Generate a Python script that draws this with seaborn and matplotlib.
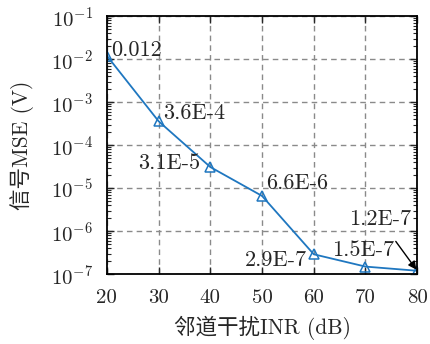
import matplotlib
matplotlib.use("Agg")
import matplotlib.pyplot as plt
import seaborn as sns
import pandas as pd
from matplotlib.ticker import LogLocator, NullFormatter

inr_db = [20, 30, 40, 50, 60, 70, 80]
mse = [0.012, 3.6e-4, 3.1e-5, 6.6e-6, 2.9e-7, 1.5e-7, 1.2e-7]
point_labels = ["0.012", "3.6E-4", "3.1E-5", "6.6E-6", "2.9E-7", "1.5E-7", "1.2E-7"]
xticks = [20, 30, 40, 50, 60, 70, 80]

sns.set_theme(style="ticks")
plt.rcParams['font.family'] = ['cmr10', 'Noto Sans CJK SC', 'DejaVu Sans']
plt.rcParams['mathtext.fontset'] = 'cm'
plt.rcParams['axes.formatter.use_mathtext'] = True
plt.rcParams['axes.unicode_minus'] = True

df = pd.DataFrame({"INR": inr_db, "MSE": mse})

fig = plt.figure(figsize=(4.31, 3.44), dpi=100)
ax = fig.add_axes([0.248, 0.203, 0.72, 0.75])

color = '#1f77c0'
sns.lineplot(data=df, x="INR", y="MSE", ax=ax, color=color, lw=1.3,
             marker='^', markersize=6.5, markerfacecolor='none',
             markeredgecolor=color, markeredgewidth=1.1)

ax.set_yscale('log')
ax.set_xlim(20, 80)
ax.set_ylim(1e-7, 1e-1)
ax.set_xticks(xticks)
ax.set_xticklabels([str(v) for v in xticks])
ax.yaxis.set_major_locator(LogLocator(base=10, numticks=10))
ax.yaxis.set_minor_locator(LogLocator(base=10, subs=range(2, 10), numticks=20))
ax.yaxis.set_minor_formatter(NullFormatter())

ax.grid(True, which='major', linestyle=(0, (4, 3)), color='#8a8a8a', lw=1.0)
ax.tick_params(which='both', direction='in', top=True, right=True, labelsize=15)
ax.tick_params(axis='x', pad=11)
ax.tick_params(axis='y', pad=10)
ax.tick_params(which='major', length=5, width=1)
ax.tick_params(which='minor', length=3, width=0.8)
ax.tick_params(axis='x', which='minor', bottom=False, top=False)
for s in ax.spines.values():
    s.set_linewidth(1.3)
    s.set_color('black')

ax.set_xlabel("邻道干扰INR (dB)", fontsize=15.5, labelpad=6)
ax.set_ylabel("信号MSE (V)", fontsize=15.5, labelpad=12)

fs = 16
offsets = [(3, 4, 'left', 'center'),
           (3, 6, 'left', 'center'),
           (-7, 3, 'right', 'center'),
           (3, 9, 'left', 'center'),
           (-5, -4, 'right', 'center'),
           (-2, 12, 'center', 'center')]
for i in range(6):
    dx, dy, ha, va = offsets[i]
    ax.annotate(point_labels[i], (inr_db[i], mse[i]), xytext=(dx, dy),
                textcoords='offset points', ha=ha, va=va, fontsize=fs)
ax.annotate(point_labels[6], (inr_db[6], mse[6]), xytext=(-27, 37),
            textcoords='offset points', ha='center', va='center', fontsize=fs,
            arrowprops=dict(arrowstyle='-|>', color='black', lw=1.0,
                            shrinkA=8, shrinkB=1, mutation_scale=12))

fig.savefig("out.png", dpi=100)
